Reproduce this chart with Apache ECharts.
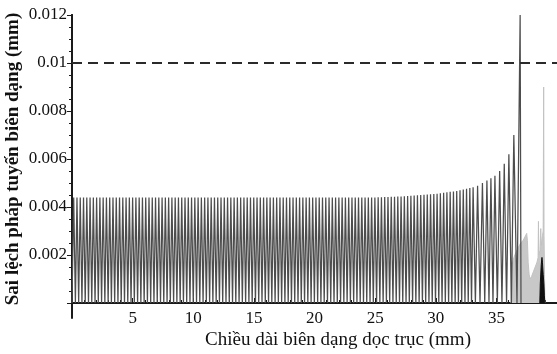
<!DOCTYPE html>
<html>
<head>
<meta charset="utf-8">
<script src="https://cdn.jsdelivr.net/npm/echarts@6/dist/echarts.min.js"></script>
<style>
html,body{margin:0;padding:0;background:#fff;}
#c{width:557px;height:354px;}
</style>
</head>
<body>
<div id="c"></div>
<script>
// ---- data (mm, mm) ----
var xTitle = 'Chiều dài biên dạng dọc trục (mm)';
var yTitle = 'Sai lệch pháp tuyến biên dạng (mm)';
var limitValue = 0.01;

// main (dark gray) profile: spike tops
var peakX = [
 0.14,0.41,0.68,0.95,1.22,1.49,1.76,2.03,2.30,2.57,
 2.84,3.11,3.38,3.65,3.92,4.19,4.46,4.73,5.00,5.27,
 5.54,5.81,6.08,6.35,6.62,6.89,7.16,7.43,7.70,7.97,
 8.24,8.51,8.78,9.05,9.32,9.59,9.86,10.13,10.40,10.67,
 10.94,11.21,11.48,11.75,12.02,12.29,12.56,12.83,13.10,13.37,
 13.64,13.91,14.18,14.45,14.72,14.99,15.26,15.53,15.80,16.07,
 16.34,16.61,16.88,17.15,17.42,17.69,17.96,18.23,18.50,18.77,
 19.04,19.31,19.58,19.85,20.12,20.39,20.66,20.93,21.20,21.47,
 21.74,22.01,22.28,22.55,22.82,23.09,23.36,23.63,23.90,24.17,
 24.44,24.71,24.98,25.25,25.52,25.79,26.06,26.33,26.60,26.87,
 27.14,27.41,27.68,27.95,28.22,28.49,28.76,29.03,29.30,29.57,
 29.84,30.11,30.38,30.65,30.92,31.19,31.46,31.73,32.00,32.27,
 32.54,32.81,33.08,
 33.45,33.85,34.22,34.55,34.88,35.27,35.65,36.03,36.44,36.96
];
var peakY = [
 0.0044,0.0044,0.0044,0.0044,0.0044,0.0044,0.0044,0.0044,0.0044,0.0044,
 0.0044,0.0044,0.0044,0.0044,0.0044,0.0044,0.0044,0.0044,0.0044,0.0044,
 0.0044,0.0044,0.0044,0.0044,0.0044,0.0044,0.0044,0.0044,0.0044,0.0044,
 0.0044,0.0044,0.0044,0.0044,0.0044,0.0044,0.0044,0.0044,0.0044,0.0044,
 0.0044,0.0044,0.0044,0.0044,0.0044,0.0044,0.0044,0.0044,0.0044,0.0044,
 0.0044,0.0044,0.0044,0.0044,0.0044,0.0044,0.0044,0.0044,0.0044,0.0044,
 0.0044,0.0044,0.0044,0.0044,0.0044,0.0044,0.0044,0.0044,0.0044,0.0044,
 0.0044,0.0044,0.0044,0.0044,0.0044,0.0044,0.0044,0.0044,0.0044,0.0044,
 0.0044,0.0044,0.0044,0.0044,0.0044,0.0044,0.0044,0.0044,0.0044,0.0044,
 0.0044,0.0044,0.0044,0.00441,0.00441,0.00442,0.00442,0.00443,0.00443,0.00444,
 0.00444,0.00445,0.00446,0.00447,0.00448,0.00449,0.0045,0.00451,0.00452,0.00453,
 0.00454,0.00455,0.00457,0.00459,0.00461,0.00463,0.00465,0.00467,0.0047,0.00473,
 0.00476,0.00479,0.00482,
 0.00488,0.0050,0.0051,0.0052,0.0053,0.0055,0.0058,0.0062,0.0070,0.0120
];
// troughs (value 0) before each spike, plus the final one
var troughX = [
 0.00,0.28,0.55,0.82,1.09,1.36,1.63,1.90,2.17,2.44,
 2.71,2.98,3.25,3.52,3.79,4.06,4.33,4.60,4.87,5.14,
 5.41,5.68,5.95,6.22,6.49,6.76,7.03,7.30,7.57,7.84,
 8.11,8.38,8.65,8.92,9.19,9.46,9.73,10.00,10.27,10.54,
 10.81,11.08,11.35,11.62,11.89,12.16,12.43,12.70,12.97,13.24,
 13.51,13.78,14.05,14.32,14.59,14.86,15.13,15.40,15.67,15.94,
 16.21,16.48,16.75,17.02,17.29,17.56,17.83,18.10,18.37,18.64,
 18.91,19.18,19.45,19.72,19.99,20.26,20.53,20.80,21.07,21.34,
 21.61,21.88,22.15,22.42,22.69,22.96,23.23,23.50,23.77,24.04,
 24.31,24.58,24.85,25.12,25.39,25.66,25.93,26.20,26.47,26.74,
 27.01,27.28,27.55,27.82,28.09,28.36,28.63,28.90,29.17,29.44,
 29.71,29.98,30.25,30.52,30.79,31.06,31.33,31.60,31.87,32.14,
 32.41,32.68,32.95,
 33.27,33.65,34.04,34.39,34.72,35.08,35.46,35.84,36.24,36.70,
 37.03
];

// light gray region near the end
var lightX = [36.20,36.24,36.30,36.45,36.60,36.80,37.00,37.20,37.40,37.50,37.56,37.62,37.70,37.78,37.90,38.05,38.20,38.35,38.44,38.47,38.50,38.60,38.66,38.70,38.80,38.86,38.90,38.93,38.97,39.00];
var lightY = [0,0.0013,0.0016,0.0019,0.0021,0.0023,0.0025,0.0026,0.0028,0.0029,0.0026,0.0017,0.0012,0.0010,0.0011,0.0013,0.0015,0.0017,0.0019,0.0034,0.0020,0.0022,0.0031,0.0024,0.0028,0.0030,0.0090,0.0028,0.0012,0];

// black region near the end
var blackX = [38.58,38.62,38.70,38.76,38.80,38.86,38.92,38.96,39.00];
var blackY = [0,0.0008,0.0016,0.0019,0.0017,0.0012,0.0008,0.0003,0];

// axis ticks
var xMin = 0, xMax = 40, xStep = 5;
var yMin = 0, yMax = 0.012, yStep = 0.002;
var yAxisLowEnd = -0.0006;

// ---- build ----
var darkData = [];
for (var i = 0; i < peakX.length; i++) {
  darkData.push([troughX[i], 0]);
  darkData.push([peakX[i], peakY[i]]);
}
darkData.push([troughX[troughX.length - 1], 0]);
var lightData = lightX.map(function (x, i) { return [x, lightY[i]]; });
var blackData = blackX.map(function (x, i) { return [x, blackY[i]]; });

var FONT = '"Liberation Serif", "Times New Roman", serif';
var AX = '#1a1a1a';

var chart = echarts.init(document.getElementById('c'), null, {renderer: 'canvas'});
chart.setOption({
  animation: false,
  backgroundColor: '#fff',
  grid: [
    {left: 72, top: 15, width: 487, height: 288},
    {left: 72, top: 15, width: 487, height: 303}
  ],
  xAxis: [{
    type: 'value', gridIndex: 0, min: xMin, max: xMax, interval: xStep,
    axisLine: {show: true, lineStyle: {color: AX, width: 2}},
    axisTick: {show: true, inside: true, length: 5, lineStyle: {color: AX, width: 1}},
    minorTick: {show: true, splitNumber: 5, length: 3, lineStyle: {color: AX, width: 1}},
    splitLine: {show: false},
    axisLabel: {show: true, showMinLabel: false, showMaxLabel: false, margin: 7,
      color: '#111', fontFamily: FONT, fontSize: 17}
  }, {
    type: 'value', gridIndex: 1, min: xMin, max: xMax, show: false
  }],
  yAxis: [{
    type: 'value', gridIndex: 0, min: yMin, max: yMax, interval: yStep,
    axisLine: {show: true, onZero: false, lineStyle: {color: AX, width: 2}},
    axisTick: {show: true, inside: false, length: 5, lineStyle: {color: AX, width: 1}},
    minorTick: {show: true, splitNumber: 4, length: 3, lineStyle: {color: AX, width: 1}},
    splitLine: {show: false},
    axisLabel: {show: true, showMinLabel: false, margin: 5, color: '#111',
      fontFamily: FONT, fontSize: 17,
      formatter: function (v) { return String(+v.toFixed(4)); }}
  }, {
    type: 'value', gridIndex: 1, min: yAxisLowEnd, max: yMax,
    axisLine: {show: true, onZero: false, lineStyle: {color: AX, width: 2}},
    axisTick: {show: false}, axisLabel: {show: false}, splitLine: {show: false}
  }],
  graphic: [{
    type: 'text', x: 13, y: 159, rotation: Math.PI / 2,
    style: {text: yTitle, font: 'bold 19px ' + FONT, fill: '#111',
      align: 'center', verticalAlign: 'middle', textAlign: 'center', textVerticalAlign: 'middle'}
  }, {
    type: 'text', x: 338, y: 340,
    style: {text: xTitle, font: '19px ' + FONT, fill: '#111',
      align: 'center', verticalAlign: 'middle', textAlign: 'center', textVerticalAlign: 'middle'}
  }],
  series: [{
    type: 'line', xAxisIndex: 0, yAxisIndex: 0, data: lightData,
    showSymbol: false, symbol: 'none', z: 2,
    lineStyle: {color: '#c2c2c2', width: 1},
    areaStyle: {color: '#c8c8c8', opacity: 1}
  }, {
    type: 'line', xAxisIndex: 0, yAxisIndex: 0, data: darkData,
    showSymbol: false, symbol: 'none', z: 3, sampling: null,
    lineStyle: {color: '#4d4d4d', width: 1.25},
    markLine: {
      silent: true, symbol: ['none', 'none'], animation: false,
      label: {show: false},
      lineStyle: {color: '#2a2a2a', width: 2, type: [10, 6]},
      data: [{yAxis: limitValue}]
    }
  }, {
    type: 'line', xAxisIndex: 0, yAxisIndex: 0, data: blackData,
    showSymbol: false, symbol: 'none', z: 4,
    lineStyle: {color: '#111', width: 1},
    areaStyle: {color: '#111', opacity: 1}
  }]
});
</script>
</body>
</html>
